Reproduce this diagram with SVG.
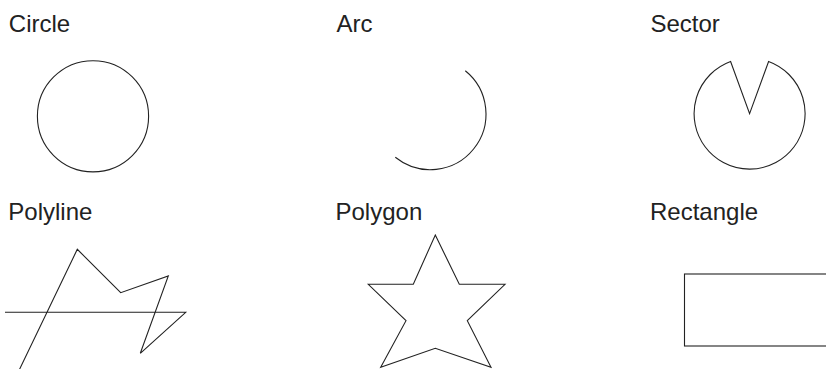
<svg xmlns="http://www.w3.org/2000/svg" width="826" height="369" viewBox="0 0 826 369">
<style>
.lbl{font-family:"Liberation Sans",Arial,Helvetica,sans-serif;font-size:24px;fill:#222}
.shp{fill:none;stroke:#222;stroke-width:1.1;stroke-linejoin:miter}
</style>
<rect width="826" height="369" fill="#fff"/>
<g id="circle">
<text class="lbl" x="8.8" y="32">Circle</text>
<circle class="shp" cx="93" cy="116.3" r="55.6"/>
</g>
<g id="arc">
<text class="lbl" x="336.5" y="32">Arc</text>
<path class="shp" d="M465.3,70.7 A55.6,55.6 0 1 1 395.3,157.3"/>
</g>
<g id="sector">
<text class="lbl" x="650.5" y="32">Sector</text>
<path class="shp" d="M749.6,113.6 L768.6,61.5 A55.5,55.5 0 1 1 730.6,61.5 Z"/>
</g>
<g id="polyline">
<text class="lbl" x="8.3" y="220">Polyline</text>
<polyline class="shp" points="14.4,380 77.3,249.3 120.7,292.7 168.3,276 140.3,353.3 185.7,312.3 5,312.3"/>
</g>
<g id="polygon">
<text class="lbl" x="335.5" y="220">Polygon</text>
<polygon class="shp" points="435.3,235 459.3,284.3 505,284.3 467.3,320.7 491,367.3 435.3,348.3 380.7,367.3 406,320.7 368.3,284.3 413.3,284.3"/>
</g>
<g id="rectangle">
<text class="lbl" x="650" y="220">Rectangle</text>
<rect class="shp" x="684.5" y="274" width="200" height="72"/>
</g>
<g id="connectors"/>
</svg>
